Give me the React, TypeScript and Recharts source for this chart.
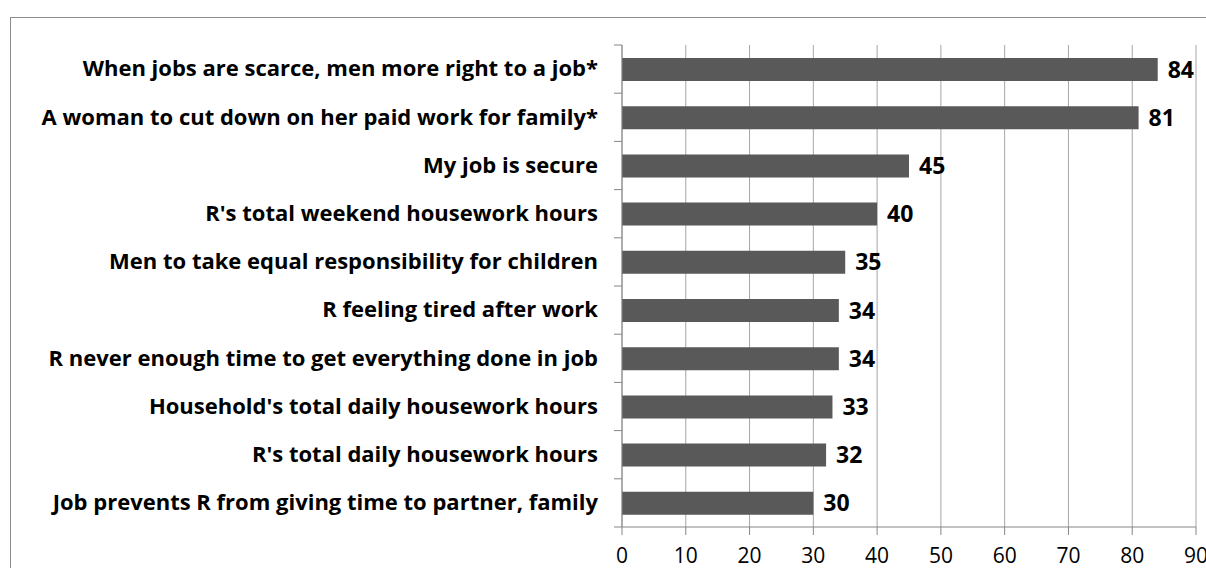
import { BarChart, Bar, XAxis, YAxis, CartesianGrid, LabelList } from 'recharts';

const categories = [
  'When jobs are scarce, men more right to a job*',
  'A woman to cut down on her paid work for family*',
  'My job is secure',
  "R's total weekend housework hours",
  'Men to take equal responsibility for children',
  'R feeling tired after work',
  'R never enough time to get everything done in job',
  "Household's total daily housework hours",
  "R's total daily housework hours",
  'Job prevents R from giving time to partner, family',
];
const values = [84, 81, 45, 40, 35, 34, 34, 33, 32, 30];
const xTicks = [0, 10, 20, 30, 40, 50, 60, 70, 80, 90];

const WIDTH = 1206;
const HEIGHT = 568;
const MARGIN = { top: 45, right: 10, bottom: 0, left: 0 };
const X_AXIS_HEIGHT = 41;
const FONT = '"Open Sans", Lato, sans-serif';
const AXIS = '#868686';

const data = categories.map((name, i) => ({ name, value: values[i] }));
const band = (HEIGHT - MARGIN.top - MARGIN.bottom - X_AXIS_HEIGHT) / categories.length;

// Excel puts category ticks between bars, so draw them at band edges
function CategoryTick(props: any) {
  const { x, y, payload, index } = props;
  const axisX = x + 24;
  return (
    <g>
      <line x1={axisX - 8} x2={axisX} y1={y - band / 2} y2={y - band / 2} stroke={AXIS} />
      {index === categories.length - 1 && (
        <line x1={axisX - 8} x2={axisX} y1={y + band / 2} y2={y + band / 2} stroke={AXIS} />
      )}
      <text
        x={x}
        y={y}
        dy="0.33em"
        textAnchor="end"
        fill="#000"
        fontFamily={FONT}
        fontWeight="bold"
        fontSize={22}
      >
        {payload.value}
      </text>
    </g>
  );
}

export default function App() {
  return (
    <div
      style={{
        position: 'absolute',
        left: 0,
        top: 0,
        width: WIDTH,
        height: HEIGHT,
        overflow: 'hidden',
        background: '#fff',
      }}
    >
      <div
        style={{
          position: 'absolute',
          left: 10,
          top: 17,
          width: 1210,
          height: 570,
          border: '1px solid #8c8c8c',
        }}
      />
      <BarChart
        layout="vertical"
        width={WIDTH}
        height={HEIGHT}
        data={data}
        margin={MARGIN}
        style={{ position: 'absolute', left: 0, top: 0 }}
      >
        <CartesianGrid horizontal={false} stroke="#a6a6a6" />
        <XAxis
          type="number"
          domain={[0, 90]}
          ticks={xTicks}
          interval={0}
          height={X_AXIS_HEIGHT}
          stroke={AXIS}
          tickSize={8}
          tickMargin={13}
          tick={{ fill: '#000', fontFamily: FONT, fontSize: 21 }}
        />
        <YAxis
          type="category"
          dataKey="name"
          width={622}
          stroke={AXIS}
          tickLine={false}
          tickSize={8}
          tickMargin={16}
          interval={0}
          tick={<CategoryTick />}
        />
        <Bar dataKey="value" fill="#595959" barSize={23} isAnimationActive={false}>
          <LabelList
            dataKey="value"
            position="right"
            offset={10}
            fill="#000"
            fontFamily={FONT}
            fontWeight="bold"
            fontSize={23}
          />
        </Bar>
      </BarChart>
    </div>
  );
}
